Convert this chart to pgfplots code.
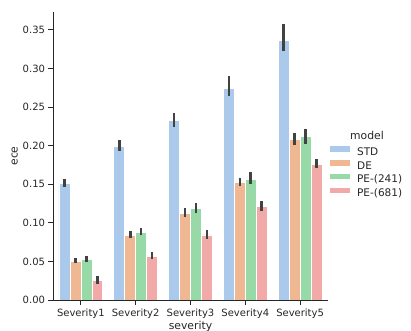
\documentclass[border=0pt]{standalone}
\usepackage{pgfplots}
\pgfplotsset{compat=1.18}
\usepackage{pgfplotstable}
\usepackage{fontspec}
\setmainfont{DejaVu Sans}

\definecolor{cstd}{HTML}{ABC9EA}
\definecolor{cde}{HTML}{EFB792}
\definecolor{cpea}{HTML}{98DAA7}
\definecolor{cpeb}{HTML}{F2AAA8}
\definecolor{ink}{HTML}{262626}
\definecolor{errc}{HTML}{424242}

% x = bar position (severity index + hue offset), y = mean ece,
% ep/em = upper/lower CI extent
\pgfplotstableread{
x y ep em
-0.3 0.1510 0.0057 0.0043
0.7 0.1994 0.0073 0.0060
1.7 0.2326 0.0100 0.0082
2.7 0.2740 0.0156 0.0103
3.7 0.3362 0.0207 0.0138
}\std
\pgfplotstableread{
x y ep em
-0.1 0.0505 0.0045 0.0025
0.9 0.0837 0.0055 0.0032
1.9 0.1126 0.0070 0.0047
2.9 0.1519 0.0065 0.0045
3.9 0.2080 0.0080 0.0069
}\de
\pgfplotstableread{
x y ep em
0.1 0.0527 0.0038 0.0031
1.1 0.0876 0.0058 0.0032
2.1 0.1182 0.0072 0.0060
3.1 0.1567 0.0092 0.0069
4.1 0.2119 0.0102 0.0099
}\pea
\pgfplotstableread{
x y ep em
0.3 0.0250 0.0058 0.0043
1.3 0.0565 0.0062 0.0038
2.3 0.0842 0.0066 0.0048
3.3 0.1213 0.0066 0.0056
4.3 0.1761 0.0066 0.0052
}\peb

\begin{document}
\begin{tikzpicture}[font=\fontsize{10.5bp}{12.6bp}\selectfont, color=ink]
\useasboundingbox (-53.5bp,-31bp) rectangle (357.5bp,300bp);
\begin{axis}[
    scale only axis,
    width=274bp, height=288bp,
    xmin=-0.5, xmax=4.5,
    ymin=0, ymax=0.373,
    clip=false,
    axis on top,
    axis x line*=bottom, axis y line*=left,
    axis line style={ink, line width=0.9bp},
    tick style={ink, line width=0.9bp},
    tick align=outside,
    major tick length=5bp,
    xtick={0,1,2,3,4},
    xticklabels={Severity1,Severity2,Severity3,Severity4,Severity5},
    ytick={0,0.05,...,0.35},
    /pgf/number format/assume math mode=true,
    yticklabel style={/pgf/number format/fixed, /pgf/number format/fixed zerofill,
                      /pgf/number format/precision=2},
    scaled y ticks=false,
    tick label style={font=\fontsize{10bp}{12bp}\selectfont, text=ink},
    xlabel={severity}, ylabel={ece},
    label style={font=\fontsize{10.8bp}{13bp}\selectfont, text=ink},
    xlabel style={yshift=4bp},
    ylabel style={yshift=-2bp},
    bar width=0.2,
    every axis plot/.append style={draw=white, line width=0.7bp},
    error bars/y dir=both,
    error bars/y explicit,
    error bars/error mark=none,
    error bars/error bar style={errc, line width=2.6bp},
    legend image code/.code={\fill[#1,draw=none] (0bp,0.9bp) rectangle (20bp,6.4bp);},
    legend style={
      at={(1.009,0.442)}, anchor=west,
      draw=none, fill=none, inner sep=0pt,
      font=\fontsize{10.5bp}{12.6bp}\selectfont,
      nodes={inner sep=0pt, text height=7.6bp, text depth=2.3bp, text=ink},
      row sep=2.4bp,
      /tikz/every odd column/.append style={column sep=7bp},
    },
    legend cell align=left,
]
\addplot[ybar, bar shift=0, fill=cstd] table[x=x, y=y, y error plus=ep, y error minus=em]{\std};
\addplot[ybar, bar shift=0, fill=cde] table[x=x, y=y, y error plus=ep, y error minus=em]{\de};
\addplot[ybar, bar shift=0, fill=cpea] table[x=x, y=y, y error plus=ep, y error minus=em]{\pea};
\addplot[ybar, bar shift=0, fill=cpeb] table[x=x, y=y, y error plus=ep, y error minus=em]{\peb};
\legend{STD,DE,PE-(241),PE-(681)}
\end{axis}
\node[font=\fontsize{10.8bp}{13bp}\selectfont, text=ink] at (313.5bp,165bp) {model};
\end{tikzpicture}
\end{document}
